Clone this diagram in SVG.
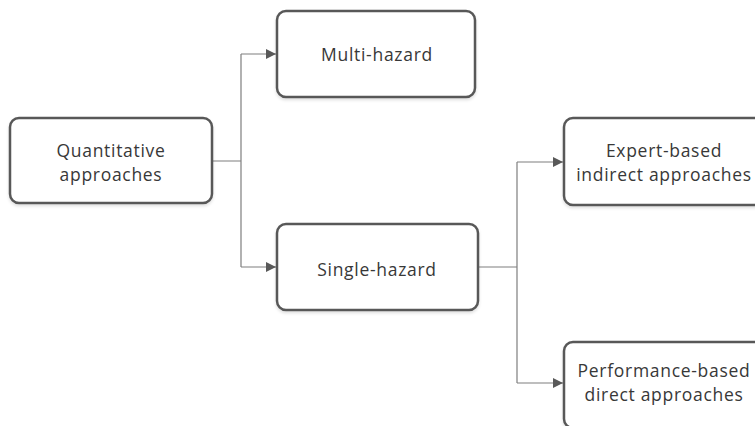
<svg xmlns="http://www.w3.org/2000/svg" width="755" height="426" viewBox="0 0 755 426">
  <style>
    .box { fill: #ffffff; stroke: #595959; stroke-width: 2.5; filter: url(#shadow); }
    .lbl { font-family: "Open Sans", "Liberation Sans", sans-serif; font-size: 17.5px; letter-spacing: 0.7px; fill: #383838; text-anchor: middle; }
    .wire { fill: none; stroke: #7f7f7f; stroke-width: 1.2; }
  </style>
  <defs>
    <marker id="arrow" viewBox="0 0 10 10" refX="10" refY="5" markerWidth="10" markerHeight="10" markerUnits="userSpaceOnUse" orient="auto">
      <path d="M0,0 L10,5 L0,10 Z" fill="#595959"/>
    </marker>
    <filter id="shadow" x="-10%" y="-10%" width="120%" height="130%">
      <feDropShadow dx="0" dy="2" stdDeviation="1.5" flood-color="#000000" flood-opacity="0.12"/>
    </filter>
  </defs>
  <rect width="755" height="426" fill="#ffffff"/>

  <g id="connectors">
    <path class="wire" d="M212,161 H241 M241,54 V267" />
    <path class="wire" d="M241,54 H276" marker-end="url(#arrow)"/>
    <path class="wire" d="M241,267 H276" marker-end="url(#arrow)"/>
    <path class="wire" d="M478,267 H517 M517,162 V383" />
    <path class="wire" d="M517,162 H563" marker-end="url(#arrow)"/>
    <path class="wire" d="M517,383 H563" marker-end="url(#arrow)"/>
  </g>

  <g id="quantitative">
    <rect class="box" x="10" y="118" width="202" height="85" rx="9"/>
    <text class="lbl" x="111" y="157">Quantitative</text>
    <text class="lbl" x="111" y="181">approaches</text>
  </g>

  <g id="multi-hazard">
    <rect class="box" x="277" y="11" width="198" height="86" rx="9"/>
    <text class="lbl" x="377" y="61">Multi-hazard</text>
  </g>

  <g id="single-hazard">
    <rect class="box" x="277" y="224" width="201" height="86" rx="9"/>
    <text class="lbl" x="377" y="276">Single-hazard</text>
  </g>

  <g id="expert-based">
    <rect class="box" x="564" y="118" width="200" height="87" rx="9"/>
    <text class="lbl" x="664" y="157">Expert-based</text>
    <text class="lbl" x="664" y="181">indirect approaches</text>
  </g>

  <g id="performance-based">
    <rect class="box" x="564" y="342" width="200" height="86" rx="9"/>
    <text class="lbl" x="664" y="377">Performance-based</text>
    <text class="lbl" x="664" y="401">direct approaches</text>
  </g>
</svg>
